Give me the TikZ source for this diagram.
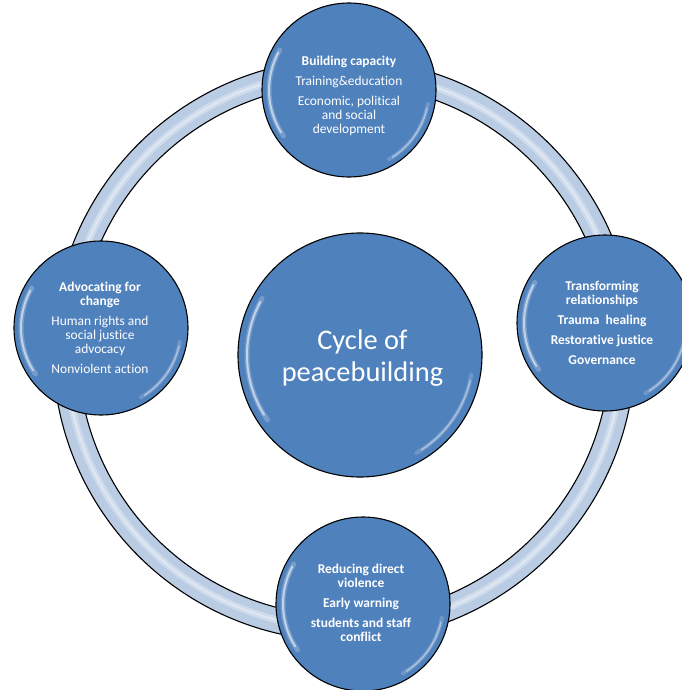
\documentclass[tikz,border=0pt]{standalone}
\usepackage{fontspec}
\setmainfont{Carlito}[Ligatures=NoCommon]
\definecolor{bubblue}{RGB}{79,129,189}
\definecolor{ringblue}{RGB}{185,204,228}
\newcommand\pbglare[2]{%
  \draw[white, opacity=0.22, line width=5bp, line cap=round]
    ([shift={(150:#2)}]#1.center) arc[start angle=150, end angle=215, radius=#2];
  \draw[white, opacity=0.55, line width=2bp, line cap=round]
    ([shift={(152:#2)}]#1.center) arc[start angle=152, end angle=212, radius=#2];
  \draw[white, opacity=0.18, line width=4bp, line cap=round]
    ([shift={(-60:#2)}]#1.center) arc[start angle=-60, end angle=-10, radius=#2];
  \draw[white, opacity=0.4, line width=1.6bp, line cap=round]
    ([shift={(-57:#2)}]#1.center) arc[start angle=-57, end angle=-13, radius=#2];
}
\begin{document}
\begin{tikzpicture}[x=1bp,y=-1bp,
  bub/.style={circle, draw=black, line width=1.1bp, fill=bubblue, inner sep=0pt},
  txt/.style={text=white, align=center, font=\fontsize{13.5}{14}\selectfont, inner sep=0pt},
  bigtxt/.style={text=white, align=center, font=\fontsize{28.5}{32}\selectfont, inner sep=0pt},
  ringline/.style={draw=black, line width=1.1bp}]
\useasboundingbox (0,0) rectangle (682,690);
\clip (0,0) rectangle (682,690);
\fill[white] (0,0) rectangle (682,690);
% ring
\coordinate (rc) at (344,350);
\fill[ringblue, even odd rule] (rc) circle[radius=291bp] (rc) circle[radius=266bp];
\draw[white, opacity=0.3, line width=7bp] (rc) circle[radius=278bp];
\draw[white, opacity=0.35, line width=2bp] (rc) circle[radius=278bp];
\draw[ringline] (rc) circle[radius=291bp];
\draw[ringline] (rc) circle[radius=266bp];
% bubbles
\node[bub, minimum size=174bp] (top) at (349,90) {};
\node[bub, minimum size=174bp] (left) at (101,328) {};
\node[bub, minimum size=176bp] (right) at (605,323) {};
\node[bub, minimum size=174bp] (bottom) at (363,604) {};
\node[bub, minimum size=244bp] (center) at (360,355) {};
\pbglare{top}{80bp}
\pbglare{left}{80bp}
\pbglare{right}{81bp}
\pbglare{bottom}{80bp}
\pbglare{center}{113bp}
% texts
\node[txt] (toptext) at (349,96) {\textbf{Building capacity}\\[6bp]
  Training\&education\\[6bp]
  Economic, political\\ and social\\ development};
\node[txt] (lefttext) at (100,327.5) {\textbf{Advocating for}\\ \textbf{change}\\[6bp]
  Human rights and\\ social justice\\ advocacy\\[6bp]
  Nonviolent action};
\node[txt, font=\fontsize{13.5}{14}\selectfont\bfseries] (righttext) at (602,323) {Transforming\\ relationships\\[6bp]
  Trauma\ \ healing\\[6bp]
  Restorative justice\\[6bp]
  Governance};
\node[txt, font=\fontsize{13.5}{14}\selectfont\bfseries] (bottomtext) at (361,603) {Reducing direct\\ violence\\[6bp]
  Early warning\\[6bp]
  students and staff\\ conflict};
\node[bigtxt] (centertext) at (362.5,358) {Cycle of\\ peacebuilding};
\end{tikzpicture}
\end{document}
